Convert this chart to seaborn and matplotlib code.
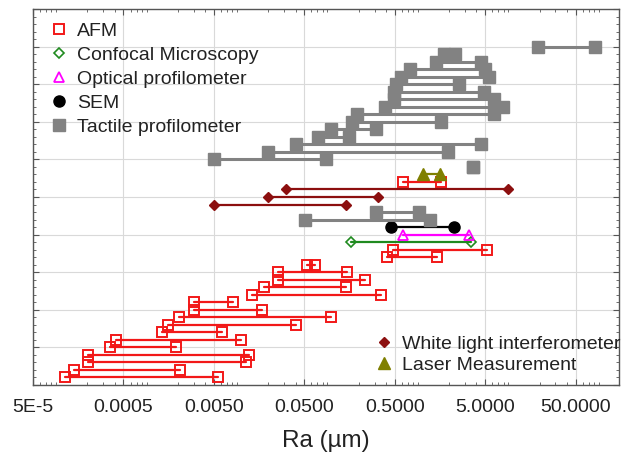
import numpy as np
import pandas as pd
import seaborn as sns
import matplotlib
matplotlib.use("Agg")
import matplotlib.pyplot as plt
from matplotlib.lines import Line2D
from matplotlib.ticker import FixedLocator, MultipleLocator, LogLocator, NullFormatter

# Reported Ra ranges (µm), one study per row, listed from the bottom row upward
methods = [
    "AFM", "AFM", "AFM", "AFM", "AFM", "AFM", "AFM", "AFM", "AFM", "AFM",
    "AFM", "AFM", "AFM", "AFM", "AFM", "AFM", "AFM", "AFM",
    "Confocal Microscopy", "Optical profilometer", "SEM",
    "Tactile profilometer", "Tactile profilometer",
    "White light interferometer", "White light interferometer", "White light interferometer",
    "AFM", "Laser Measurement",
    "Tactile profilometer", "Tactile profilometer", "Tactile profilometer", "Tactile profilometer",
    "Tactile profilometer", "Tactile profilometer", "Tactile profilometer", "Tactile profilometer",
    "Tactile profilometer", "Tactile profilometer", "Tactile profilometer", "Tactile profilometer",
    "Tactile profilometer", "Tactile profilometer", "Tactile profilometer", "Tactile profilometer",
    "Tactile profilometer",
]
ra_min = [
    0.000113, 0.000143, 0.000205, 0.000205, 0.000355, 0.00041, 0.00133, 0.00155, 0.00208, 0.0030,
    0.0030, 0.0132, 0.0179, 0.0256, 0.0256, 0.053, 0.41, 0.48,
    0.163, 0.61, 0.456,
    0.051, 0.31,
    0.005, 0.020, 0.031,
    0.62, 1.03,
    3.64, 0.005, 0.020, 0.041, 0.071, 0.10, 0.169, 0.19,
    0.39, 0.49, 0.49, 0.52, 0.59, 0.74, 1.44, 1.76,
    19.3,
]
ra_max = [
    0.0056, 0.00211, 0.0113, 0.0122, 0.00191, 0.0101, 0.0062, 0.040, 0.099, 0.0172,
    0.0081, 0.354, 0.145, 0.236, 0.149, 0.066, 1.45, 5.26,
    3.5, 3.33, 2.27,
    1.23, 0.92,
    0.143, 0.328, 9.0,
    1.63, 1.59,
    3.64, 0.087, 1.95, 4.5, 0.155, 0.31, 1.63, 6.3,
    7.9, 6.3, 4.87, 2.58, 5.5, 5.0, 4.5, 2.33,
    82.4,
]
rows = list(range(1, len(methods) + 1))

x_ticks = [5e-5, 5e-4, 5e-3, 5e-2, 5e-1, 5.0, 50.0]
x_tick_labels = ["5E-5", "0.0005", "0.0050", "0.0500", "0.5000", "5.0000", "50.0000"]

# Marker / line style for each measurement technique
styles = {
    "AFM": dict(color="#f21818", marker="s", mfc="none", ms=6.5, mew=1.4, lw=1.6),
    "Confocal Microscopy": dict(color="#1f8a1f", marker="D", mfc="none", ms=5.0, mew=1.2, lw=1.6),
    "Optical profilometer": dict(color="#ff00ff", marker="^", mfc="none", ms=7.0, mew=1.3, lw=1.6),
    "SEM": dict(color="black", marker="o", mfc="black", ms=8.0, mew=1.0, lw=1.6),
    "Tactile profilometer": dict(color="#828282", marker="s", mfc="#828282", ms=8.0, mew=1.0, lw=2.2),
    "White light interferometer": dict(color="#8c0f0f", marker="D", mfc="#8c0f0f", ms=5.5, mew=1.0, lw=1.6),
    "Laser Measurement": dict(color="#7f7f00", marker="^", mfc="#7f7f00", ms=8.0, mew=1.0, lw=1.6),
}

df = pd.DataFrame({
    "row": rows * 2,
    "Ra": ra_min + ra_max,
    "method": methods * 2,
})

sns.set_theme(style="whitegrid")
plt.rcParams["font.family"] = ["Liberation Sans", "DejaVu Sans"]

fig = plt.figure(figsize=(6.23, 4.55), dpi=100)
ax = fig.add_axes([33 / 623, 70 / 455, 585.7 / 623, 376 / 455])

for name, st in styles.items():
    sub = df[df["method"] == name]
    sns.lineplot(
        data=sub, x="Ra", y="row", units="row", estimator=None, sort=False,
        ax=ax, color=st["color"], linewidth=st["lw"], marker=st["marker"],
        markersize=st["ms"], markerfacecolor=st["mfc"], markeredgecolor=st["color"],
        markeredgewidth=st["mew"], legend=False,
    )

ax.set_xscale("log")
ax.set_xlim(5e-5, 150)
ax.set_ylim(0, 50)

ax.xaxis.set_major_locator(FixedLocator(x_ticks))
ax.set_xticklabels(x_tick_labels)
ax.xaxis.set_minor_locator(LogLocator(base=10, subs=np.arange(2, 10)))
ax.xaxis.set_minor_formatter(NullFormatter())
ax.yaxis.set_major_locator(MultipleLocator(5))
ax.yaxis.set_minor_locator(MultipleLocator(1))
ax.set_yticklabels([])

ax.grid(True, which="major", color="#d9d9d9", linewidth=0.8)
ax.grid(False, which="minor")
ax.set_facecolor("white")
for sp in ax.spines.values():
    sp.set_color("#555555")
    sp.set_linewidth(1.0)

ax.tick_params(which="both", direction="in", top=True, right=True, bottom=True, left=True,
               color="#555555")
ax.tick_params(which="major", length=4, width=0.8, labelsize=14, pad=10, labelcolor="#222222")
ax.tick_params(which="minor", length=2, width=0.6)

ax.set_xlabel("Ra (µm)", fontsize=17.5, color="#222222", labelpad=10)
ax.set_ylabel("")


def handle(name):
    st = styles[name]
    return Line2D([], [], linestyle="none", marker=st["marker"], color=st["color"],
                  markersize=st["ms"], markerfacecolor=st["mfc"],
                  markeredgecolor=st["color"], markeredgewidth=st["mew"])


first = ["AFM", "Confocal Microscopy", "Optical profilometer", "SEM", "Tactile profilometer"]
second = ["White light interferometer", "Laser Measurement"]

leg1 = ax.legend([handle(n) for n in first], first, loc="upper left",
                 bbox_to_anchor=(0.028, 0.965), frameon=False, fontsize=14,
                 handlelength=1.0, handletextpad=0.41, labelspacing=0.33,
                 borderpad=0, borderaxespad=0, labelcolor="#222222")
ax.add_artist(leg1)
ax.legend([handle(n) for n in second], second, loc="lower left",
          bbox_to_anchor=(0.583, 0.03), frameon=False, fontsize=14,
          handlelength=1.0, handletextpad=0.41, labelspacing=0.16,
          borderpad=0, borderaxespad=0, labelcolor="#222222")

fig.savefig("out.png", dpi=100)
